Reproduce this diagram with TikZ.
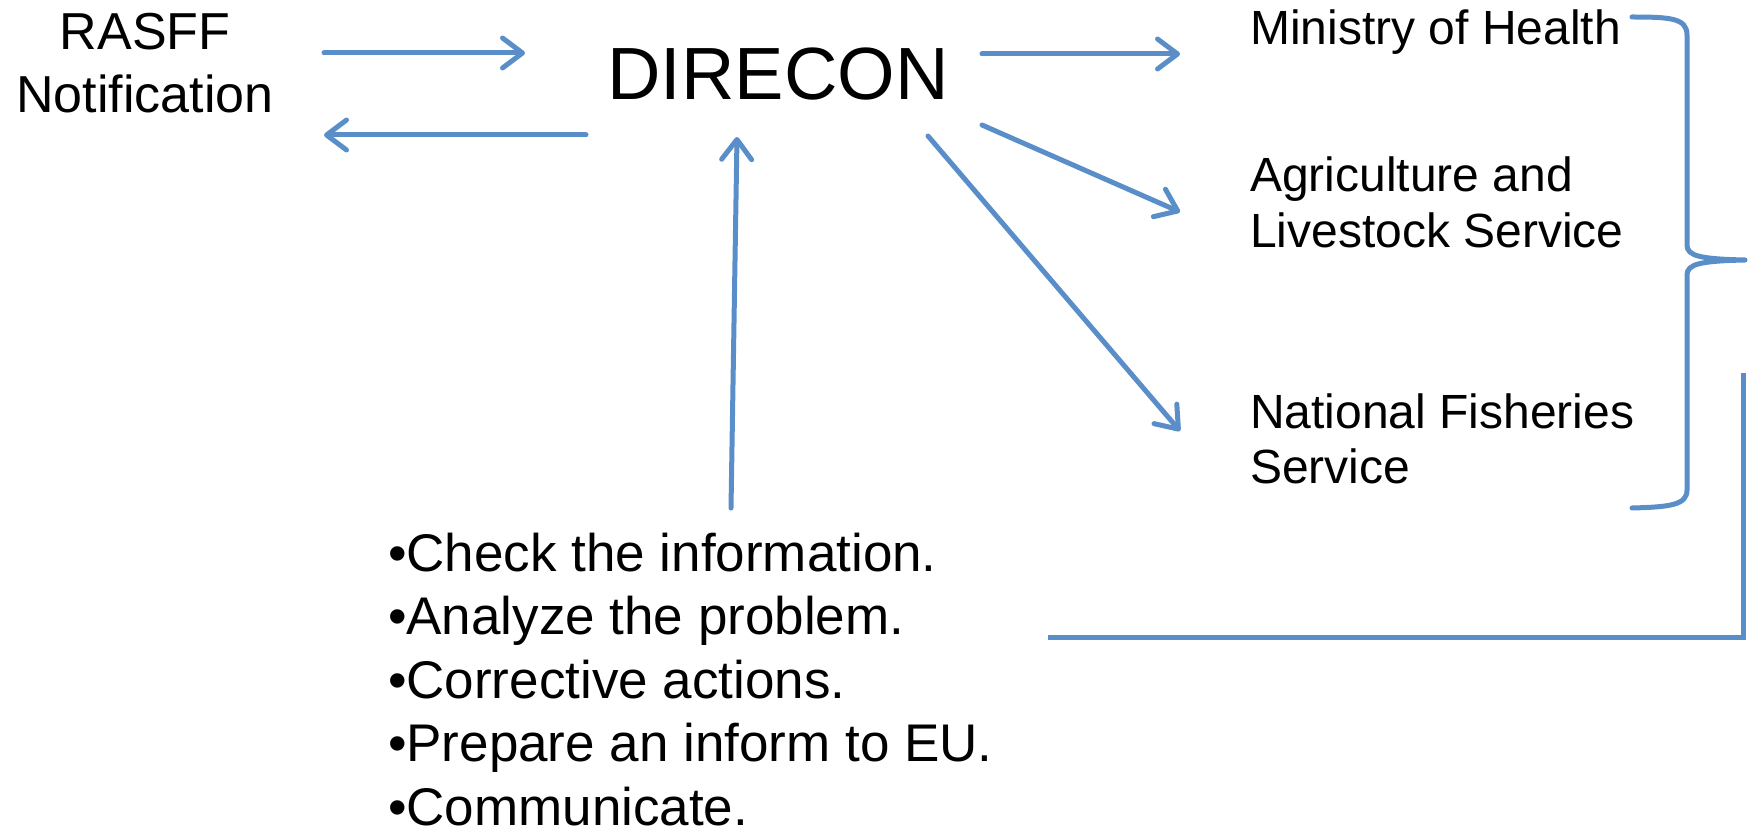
\documentclass[tikz,border=0pt]{standalone}
\usepackage{fontspec}
\setmainfont{Liberation Sans}
\usetikzlibrary{arrows.meta,calc}
\definecolor{lineblue}{RGB}{90,142,200}
\begin{document}
\begin{tikzpicture}[x=1pt,y=-1pt,
  lbl/.style={inner sep=0pt,outer sep=0pt,text=black},
  conn/.style={draw=lineblue,line width=5pt,line cap=round,line join=round},
  arr/.style={conn,-{Straight Barb[length=20pt,width=30pt,round]}}]
\useasboundingbox (0,0) rectangle (1750,829);
% multi-line nodes: base anchor is the baseline of the last line
\node[lbl,anchor=base,align=center,font=\fontsize{52}{63}\selectfont] (rasff) at (145,113) {RASFF\\Notification};
\node[lbl,anchor=base,font=\fontsize{74}{80}\selectfont] (direcon) at (778,100) {DIRECON};
\node[lbl,anchor=base west,font=\fontsize{48}{55}\selectfont] (moh) at (1250,45) {Ministry of Health};
\node[lbl,anchor=base west,align=left,font=\fontsize{48}{55}\selectfont] (als) at (1250,247) {Agriculture and\\Livestock Service};
\node[lbl,anchor=base west,align=left,font=\fontsize{48}{55}\selectfont] (nfs) at (1250,483) {National Fisheries\\Service};
\node[lbl,anchor=base west,align=left,font=\fontsize{53}{63.5}\selectfont] (tasks) at (388,825) {•Check the information.\\•Analyze the problem.\\•Corrective actions.\\•Prepare an inform to EU.\\•Communicate.};
% arrows
\draw[arr] ($(rasff.base)+(179,-60)$) -- ($(direcon.base)+(-253,-47)$);
\draw[arr] ($(direcon.base)+(-192,35)$) -- ($(rasff.base)+(179,22)$);
\draw[arr] ($(direcon.base)+(204,-46)$) -- ($(moh.base west)+(-70,9)$);
\draw[arr] ($(direcon.base)+(204,25)$) -- ($(als.base west)+(-70,-35)$);
\draw[arr] ($(direcon.base)+(150,36)$) -- ($(nfs.base west)+(-70,-52)$);
\draw[arr] ($(tasks.base west)+(343,-317)$) -- ($(direcon.base)+(-41,37)$);
% brace
\draw[conn] (1632,17) .. controls (1670,17) and (1687,18) .. (1687,35) -- (1687,245)
  .. controls (1687,256) and (1700,259) .. (1745,260)
  .. controls (1700,261) and (1687,264) .. (1687,275) -- (1687,490)
  .. controls (1687,505) and (1670,507) .. (1632,508);
% feedback line
\coordinate (fbtop) at (1743,373);
\draw[conn,line cap=butt,line join=miter] (fbtop) -- (1743,637) -- ($(tasks.base west)+(660,-188)$);
\end{tikzpicture}
\end{document}
